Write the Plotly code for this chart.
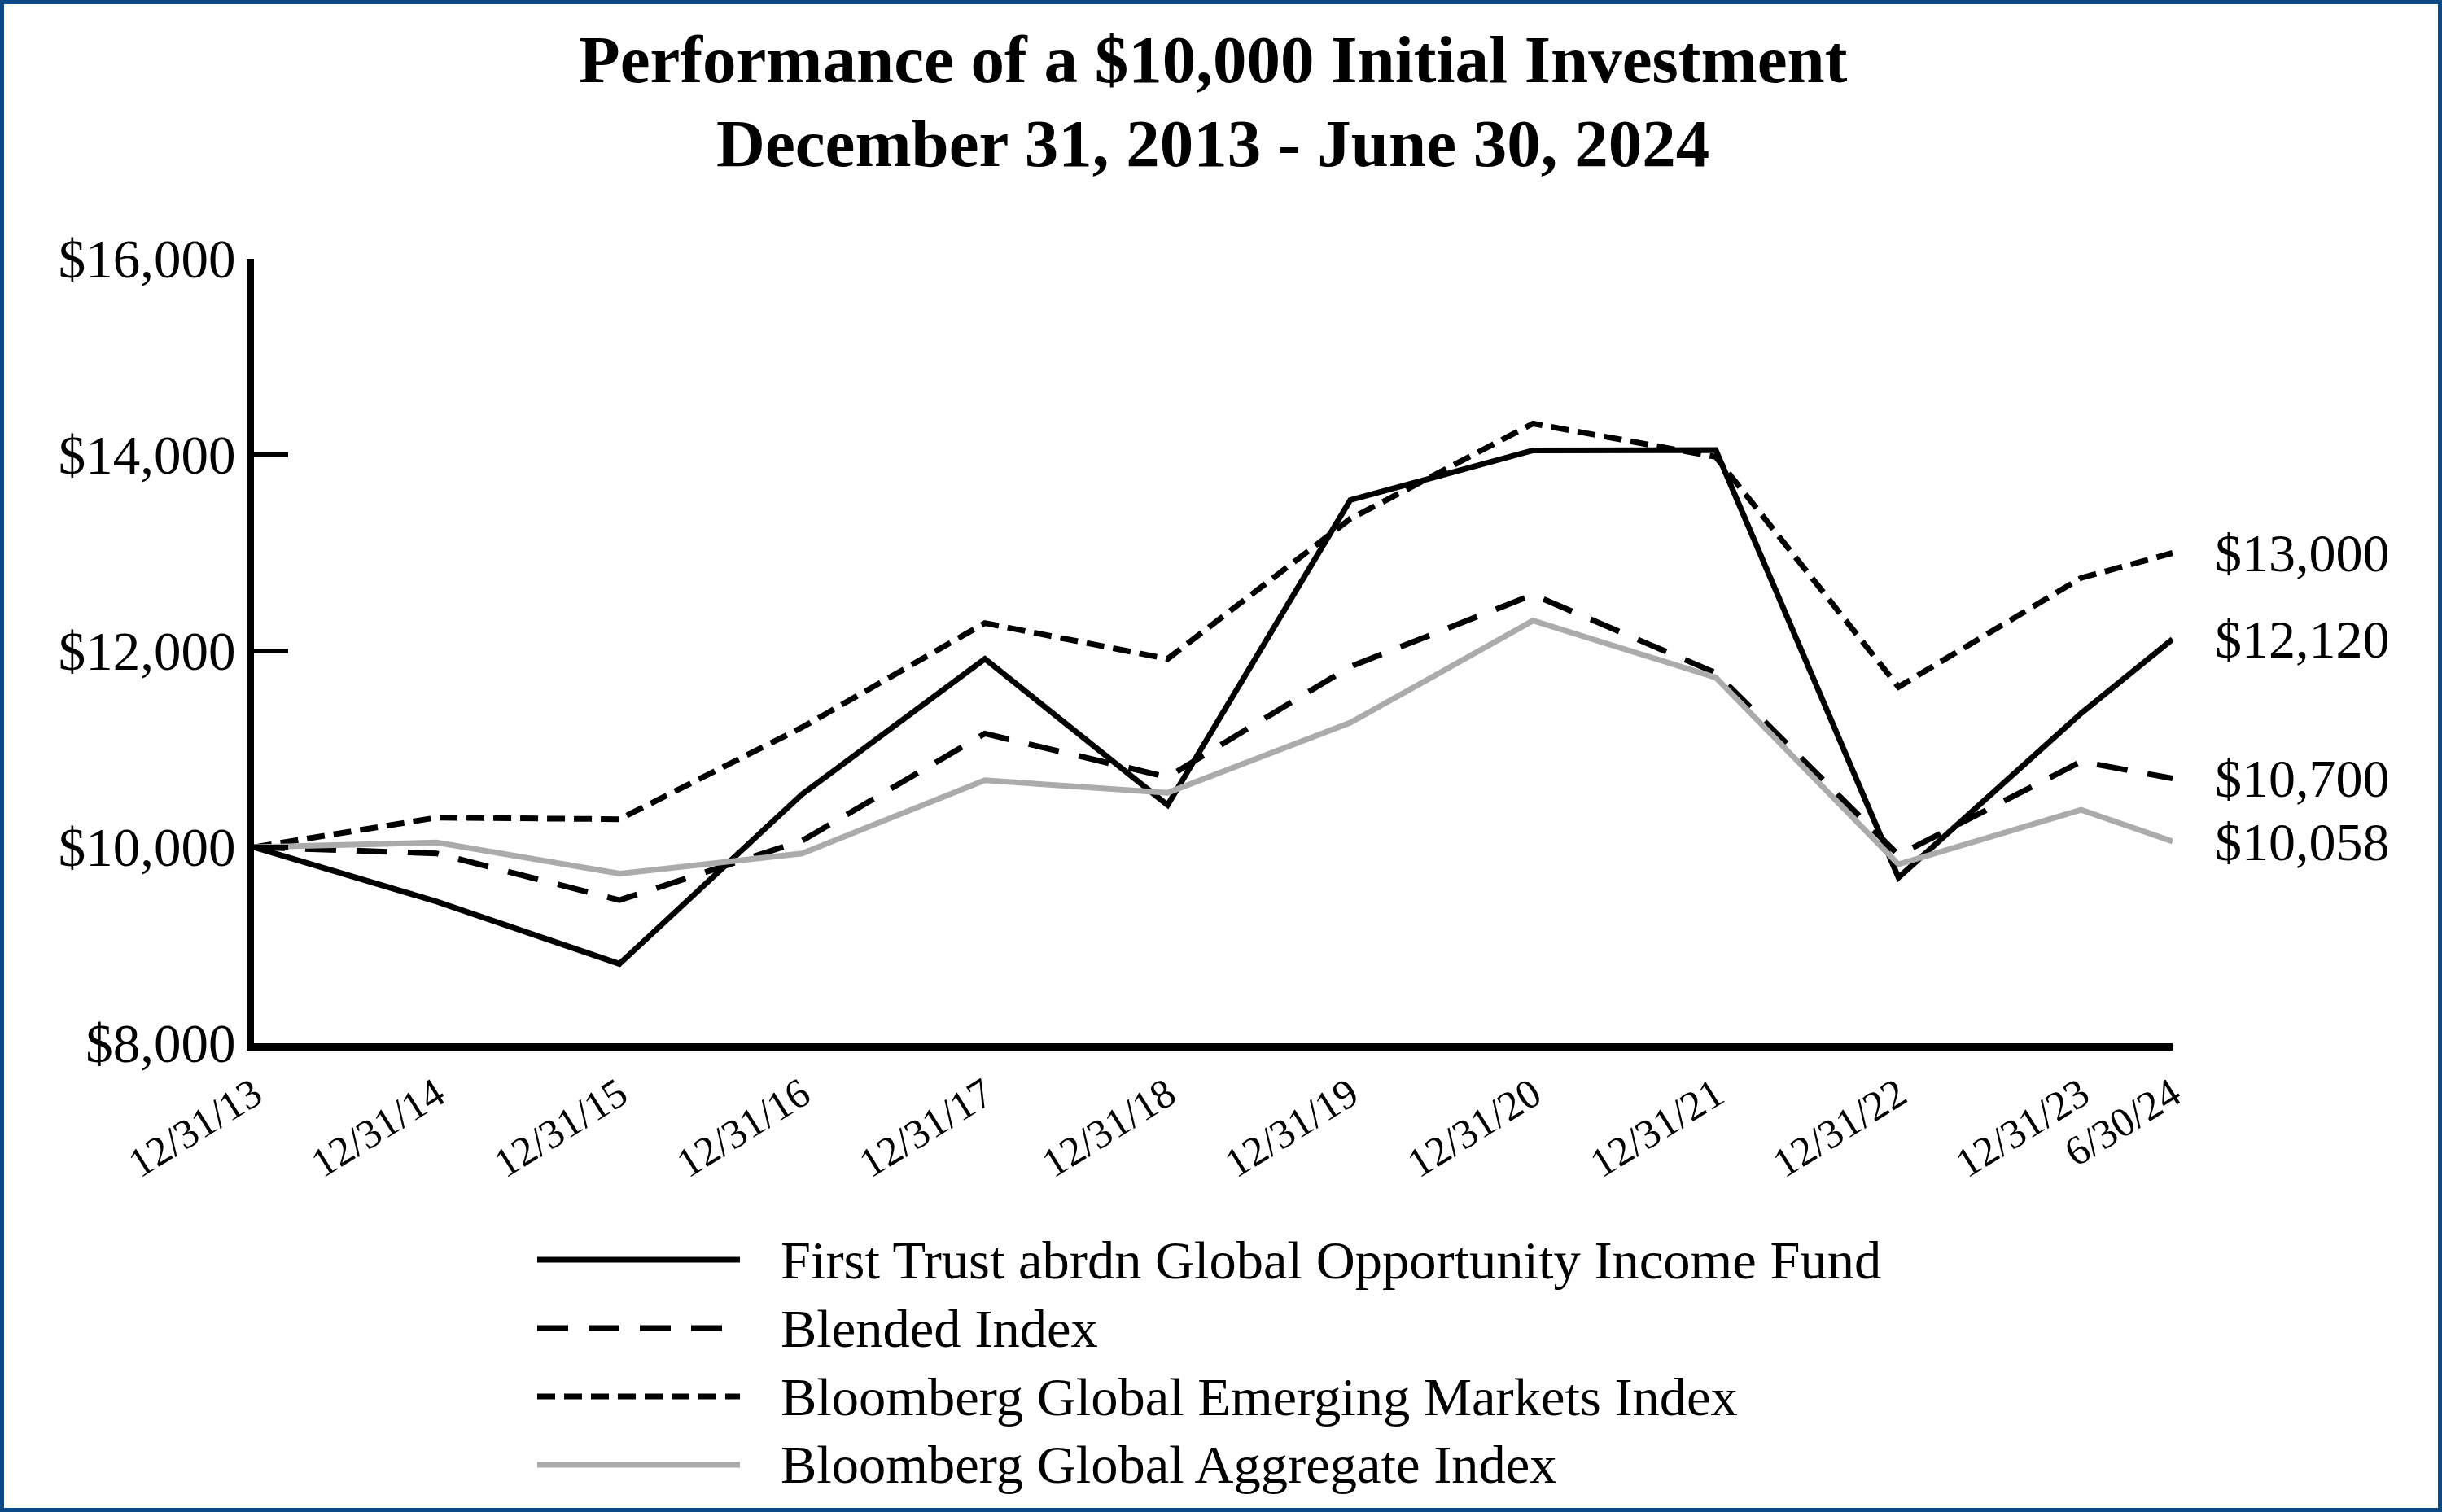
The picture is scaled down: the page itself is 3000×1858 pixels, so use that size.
import plotly.graph_objects as go

# ---------------- data ----------------
x_labels = ["12/31/13", "12/31/14", "12/31/15", "12/31/16", "12/31/17", "12/31/18",
            "12/31/19", "12/31/20", "12/31/21", "12/31/22", "12/31/23", "6/30/24"]
x_pos = [0, 1, 2, 3, 4, 5, 6, 7, 8, 9, 10, 10.5]

series_names = [
    "First Trust abrdn Global Opportunity Income Fund",
    "Blended Index",
    "Bloomberg Global Emerging Markets Index",
    "Bloomberg Global Aggregate Index",
]
fund = [10000, 9445, 8810, 10540, 11920, 10430, 13540, 14046, 14050, 9690, 11365, 12120]
blended = [10000, 9936, 9460, 10065, 11158, 10714, 11841, 12575, 11777, 9920, 10873, 10700]
em = [10000, 10301, 10285, 11222, 12285, 11920, 13348, 14320, 13980, 11634, 12745, 13000]
agg = [10000, 10047, 9730, 9936, 10682, 10555, 11269, 12310, 11730, 9825, 10381, 10058]
end_labels = ["$12,120", "$10,700", "$13,000", "$10,058"]

y_ticks = [8000, 10000, 12000, 14000, 16000]
y_ticktext = ["$8,000", "$10,000", "$12,000", "$14,000", "$16,000"]

title_lines = ["Performance of a $10,000 Initial Investment", "December 31, 2013 - June 30, 2024"]

# ---------------- style ----------------
FONT = "Liberation Serif"
W, H = 3000, 1858
L, R, T, B = 312, 331, 318, 576
PW, PH = W - L - R, H - T - B

styles = [
    dict(color="black", width=7, dash="solid"),
    dict(color="black", width=7, dash="38px,25px"),
    dict(color="black", width=7, dash="22px,11px"),
    dict(color="#ABABAB", width=7, dash="solid"),
]
all_series = [fund, blended, em, agg]


def px2paper(px, py):
    return (px - L) / PW, (H - B - py) / PH


fig = go.Figure()
for name, vals, st in zip(series_names, all_series, styles):
    fig.add_trace(go.Scatter(x=x_pos, y=vals, mode="lines", name=name,
                             line=st, showlegend=False, cliponaxis=False))

# end-value labels
for vals, lab in zip(all_series, end_labels):
    fig.add_annotation(x=x_pos[-1], y=vals[-1], text=lab, showarrow=False,
                       xanchor="left", yanchor="middle", xshift=50,
                       font=dict(family=FONT, size=66, color="black"))

# title lines
for i, line in enumerate(title_lines):
    tx, ty = px2paper(1490, 73 + i * 103)
    fig.add_annotation(xref="paper", yref="paper", x=tx, y=ty, text="<b>" + line + "</b>",
                       showarrow=False, xanchor="center", yanchor="middle",
                       font=dict(family=FONT, size=83, color="black"))

# manual legend
shapes = []
for i, (name, st) in enumerate(zip(series_names, styles)):
    py = 1548 + i * 84
    x0, y0 = px2paper(660, py)
    x1, _ = px2paper(909, py)
    shapes.append(dict(type="line", xref="paper", yref="paper", x0=x0, x1=x1, y0=y0, y1=y0,
                       line=dict(color=st["color"], width=st["width"], dash=st["dash"])))
    tx, ty = px2paper(957, py)
    fig.add_annotation(xref="paper", yref="paper", x=tx, y=ty, text=name, showarrow=False,
                       xanchor="left", yanchor="middle",
                       font=dict(family=FONT, size=66.5, color="black"))

# outer blue frame
bx0, by1 = px2paper(2.5, 2.5)
bx1, by0 = px2paper(W - 2.5, H - 2.5)
shapes.append(dict(type="rect", xref="paper", yref="paper", x0=bx0, x1=bx1, y0=by0, y1=by1,
                   line=dict(color="#0B4A85", width=5), fillcolor="rgba(0,0,0,0)", layer="above"))

fig.update_layout(
    width=W, height=H,
    margin=dict(l=L, r=R, t=T, b=B),
    paper_bgcolor="white", plot_bgcolor="white",
    font=dict(family=FONT, color="black"),
    shapes=shapes,
    xaxis=dict(range=[0, 10.5], tickvals=x_pos, ticktext=x_labels, tickangle=-32,
               showline=True, linewidth=9, linecolor="black", ticks="",
               showgrid=False, zeroline=False, ticklabelstandoff=4,
               tickfont=dict(family=FONT, size=51, color="black")),
    yaxis=dict(range=[8000, 16000], tickvals=y_ticks, ticktext=y_ticktext,
               showline=True, linewidth=9, linecolor="black",
               ticks="inside", ticklen=42, tickwidth=6, tickcolor="black",
               showgrid=False, zeroline=False, ticklabelstandoff=0,
               tickfont=dict(family=FONT, size=67, color="black")),
)

fig.write_html("out.html", config={"displayModeBar": False},
               post_script="document.body.style.margin='0';")
